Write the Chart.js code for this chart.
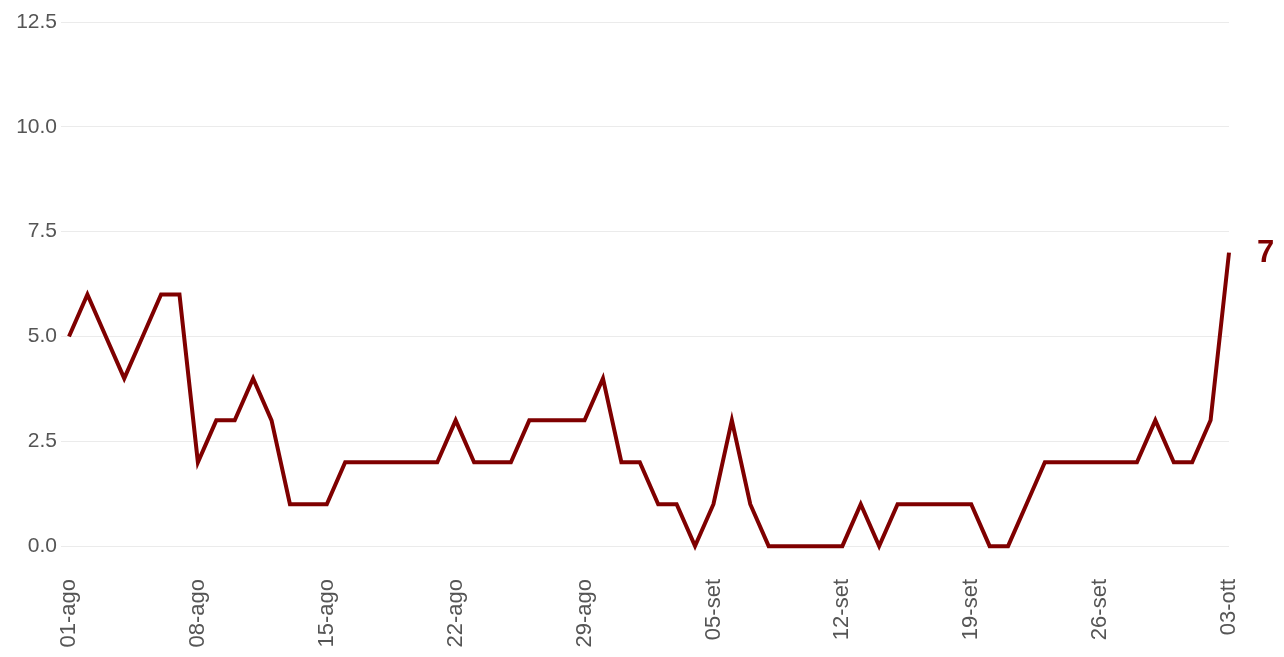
<!DOCTYPE html>
<html><head><meta charset="utf-8">
<script src="https://cdn.jsdelivr.net/npm/chart.js@4"></script>
<style>html,body{margin:0;background:#fff;overflow:hidden}#wrap{width:1284px;height:657px}</style>
</head><body><div id="wrap"><canvas id="c"></canvas></div>
<script>
// ── Data ──────────────────────────────────────
const months = [['ago', 31], ['set', 30], ['ott', 3]];
const dates = [];
months.forEach(([m, n]) => { for (let d = 1; d <= n; d++) dates.push(String(d).padStart(2, '0') + '-' + m); });

const cases = [5,6,5,4,5,6,6,2,3,3,4,3,1,1,1,2,2,2,2,2,2,3,2,2,2,3,3,3,3,4,2,2,1,1,0,1,3,1,0,0,0,0,0,1,0,1,1,1,1,1,0,0,1,2,2,2,2,2,2,3,2,2,3,7];
const yTicks = [0, 2.5, 5, 7.5, 10, 12.5];
const lineColor = '#7f0000';

// ── End label plugin ──────────────────────────
const endLabel = {
  id: 'endLabel',
  afterDatasetsDraw(chart) {
    const pt = chart.getDatasetMeta(0).data[cases.length - 1];
    const ctx = chart.ctx;
    ctx.save();
    ctx.fillStyle = lineColor;
    ctx.font = 'bold 31px "Liberation Sans", Arial';
    ctx.textBaseline = 'middle';
    ctx.fillText(String(cases[cases.length - 1]), pt.x + 28, pt.y + 1);
    ctx.restore();
  }
};

new Chart(document.getElementById('c'), {
  type: 'line',
  data: { labels: dates, datasets: [{ data: cases, borderColor: lineColor, borderWidth: 4, pointRadius: 0, tension: 0, fill: false }] },
  options: {
    responsive: true, maintainAspectRatio: false, animation: false,
    layout: { padding: { left: 0, right: 55, top: 22, bottom: 0 } },
    plugins: { legend: { display: false }, tooltip: { enabled: false } },
    scales: {
      x: {
        offset: false,
        grid: { display: false }, border: { display: false },
        afterFit: s => { s.height = 92; },
        ticks: {
          autoSkip: false, maxRotation: 90, minRotation: 90, color: '#555', padding: 6,
          font: { size: 22, family: '"Liberation Sans", Arial' },
          callback: (v, i) => i % 7 === 0 ? dates[i] : ''
        }
      },
      y: {
        min: -0.45, max: 12.5,
        afterFit: s => { s.width = 69; },
        afterBuildTicks: ax => { ax.ticks = yTicks.map(v => ({ value: v })); },
        grid: { color: '#ebebeb', lineWidth: 1 }, border: { display: false },
        ticks: { color: '#555', padding: 4, font: { size: 21, family: '"Liberation Sans", Arial' }, callback: v => v.toFixed(1) }
      }
    }
  },
  plugins: [endLabel]
});
</script></body></html>
